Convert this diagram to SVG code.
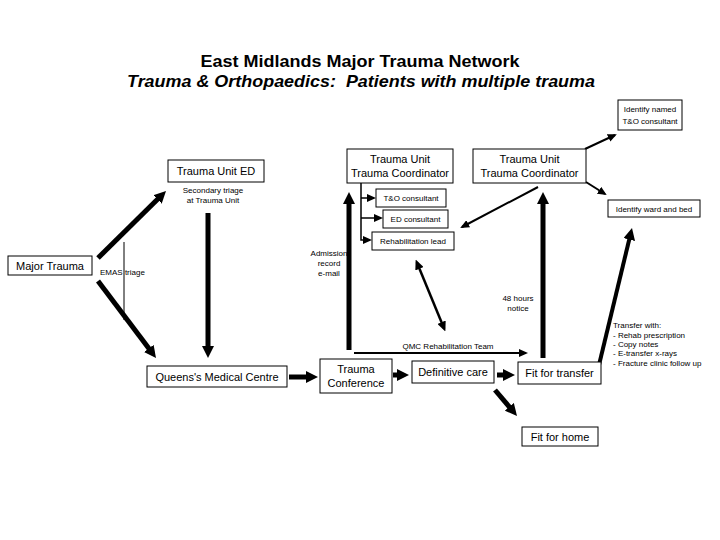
<svg xmlns="http://www.w3.org/2000/svg" width="720" height="540" viewBox="0 0 720 540">
<defs>
<style>
.box{fill:#fff;stroke:#000;stroke-width:1}
.t{font-family:"Liberation Sans",Arial,sans-serif;font-size:11px;fill:#000;text-anchor:middle}
.s{font-family:"Liberation Sans",Arial,sans-serif;font-size:8px;fill:#000;text-anchor:middle}
.sl{font-family:"Liberation Sans",Arial,sans-serif;font-size:8px;fill:#000}
.thick{stroke:#000;stroke-width:5;fill:none;marker-end:url(#big)}
.thin{stroke:#000;stroke-width:2;fill:none;marker-end:url(#small)}
</style>
<marker id="big" viewBox="0 0 12 12" refX="3" refY="6" markerWidth="12" markerHeight="12" markerUnits="userSpaceOnUse" orient="auto"><path d="M0,0 L12,6 L0,12 z" fill="#000"/></marker>
<marker id="small" viewBox="0 0 9 8" refX="7" refY="4" markerWidth="9" markerHeight="8" markerUnits="userSpaceOnUse" orient="auto"><path d="M0,0 L9,4 L0,8 z" fill="#000"/></marker>
<marker id="mid" viewBox="0 0 10 9" refX="7" refY="4.5" markerWidth="10" markerHeight="9" markerUnits="userSpaceOnUse" orient="auto-start-reverse"><path d="M0,0 L10,4.5 L0,9 z" fill="#000"/></marker>
</defs>
<rect width="720" height="540" fill="#fff"/>
<g id="title">
<text x="360" y="67" textLength="319" lengthAdjust="spacingAndGlyphs" style="font-family:'Liberation Sans',Arial,sans-serif;font-size:17px;font-weight:bold;text-anchor:middle">East Midlands Major Trauma Network</text>
<text x="361" y="87" textLength="468" lengthAdjust="spacingAndGlyphs" style="font-family:'Liberation Sans',Arial,sans-serif;font-size:17px;font-weight:bold;font-style:italic;text-anchor:middle" xml:space="preserve">Trauma &amp; Orthopaedics:  Patients with multiple trauma</text>
</g>
<g id="connectors">
<line class="thick" x1="98" y1="258" x2="159.6" y2="197.3"/>
<line class="thick" x1="98" y1="281" x2="150.6" y2="350.8"/>
<line class="thick" x1="208" y1="213" x2="208" y2="349"/>
<line class="thick" x1="349" y1="350" x2="349" y2="201"/>
<line class="thick" x1="543" y1="358" x2="543" y2="201"/>
<line class="thick" style="stroke-width:4" x1="599" y1="365" x2="629.9" y2="236.7"/>
<line class="thick" x1="289" y1="377" x2="309" y2="377"/>
<line class="thick" x1="393" y1="375" x2="400" y2="375"/>
<line class="thick" x1="497" y1="375" x2="506" y2="375"/>
<line class="thick" x1="495" y1="390" x2="511.2" y2="409.1"/>
<line x1="124" y1="242" x2="124" y2="320" stroke="#000" stroke-width="1"/>
<line x1="416.8" y1="262.3" x2="444.2" y2="328.7" stroke="#000" stroke-width="2.5" marker-start="url(#mid)" marker-end="url(#mid)"/>
<line class="thin" x1="538" y1="187" x2="462" y2="227"/>
<line class="thin" x1="585" y1="149" x2="615" y2="135"/>
<line class="thin" x1="586" y1="182" x2="605" y2="194"/>
<line class="thin" x1="354" y1="353" x2="526" y2="353"/>
<path d="M361,183 V240 H370" class="thin" style="stroke-width:1.5"/>
<line class="thin" style="stroke-width:1.5" x1="361" y1="198" x2="374" y2="198"/>
<line class="thin" style="stroke-width:1.5" x1="361" y1="218" x2="381" y2="218"/>
</g>
<g id="identify-named">
<rect class="box" x="618" y="100" width="64" height="30"/>
<text class="s" x="650" y="112">Identify named</text>
<text class="s" x="650" y="124">T&amp;O consultant</text>
</g>
<g id="trauma-unit-ed">
<rect class="box" x="168" y="160" width="96" height="22"/>
<text class="t" x="216" y="175">Trauma Unit ED</text>
</g>
<g id="secondary-triage">
<text class="s" x="213" y="193">Secondary triage</text>
<text class="s" x="213" y="203">at Trauma Unit</text>
</g>
<g id="coordinator-1">
<rect class="box" x="347" y="149" width="106" height="34"/>
<text class="t" x="400" y="163">Trauma Unit</text>
<text class="t" x="400" y="177">Trauma Coordinator</text>
</g>
<g id="coordinator-2">
<rect class="box" x="473" y="149" width="113" height="34"/>
<text class="t" x="529.5" y="163">Trauma Unit</text>
<text class="t" x="529.5" y="177">Trauma Coordinator</text>
</g>
<g id="to-consultant">
<rect class="box" x="376" y="189" width="70" height="18"/>
<text class="s" x="411" y="201">T&amp;O consultant</text>
</g>
<g id="ed-consultant">
<rect class="box" x="383" y="210" width="65" height="18"/>
<text class="s" x="415.5" y="222">ED consultant</text>
</g>
<g id="rehab-lead">
<rect class="box" x="372" y="232" width="82" height="18"/>
<text class="s" x="413" y="244">Rehabilitation lead</text>
</g>
<g id="identify-ward">
<rect class="box" x="608" y="200" width="92" height="17"/>
<text class="s" x="654" y="211.5">Identify ward and bed</text>
</g>
<g id="major-trauma">
<rect class="box" x="8" y="256" width="84" height="19"/>
<text class="t" x="50" y="270">Major Trauma</text>
</g>
<g id="emas-triage">
<text class="sl" x="100" y="275">EMAS triage</text>
</g>
<g id="admission">
<text class="s" x="329" y="256">Admission</text>
<text class="s" x="329" y="266">record</text>
<text class="s" x="329" y="276">e-mail</text>
</g>
<g id="hours-notice">
<text class="s" x="518" y="301">48 hours</text>
<text class="s" x="518" y="311">notice</text>
</g>
<g id="qmc-rehab">
<text class="s" x="448" y="349">QMC Rehabilitation Team</text>
</g>
<g id="transfer-with">
<text class="sl" x="613" y="328">Transfer with:</text>
<text class="sl" x="613" y="338">- Rehab prescription</text>
<text class="sl" x="613" y="347">- Copy notes</text>
<text class="sl" x="613" y="356">- E-transfer x-rays</text>
<text class="sl" x="613" y="366">- Fracture clinic follow up</text>
</g>
<g id="qmc">
<rect class="box" x="147" y="366" width="140" height="21"/>
<text class="t" x="217" y="380.5">Queens's Medical Centre</text>
</g>
<g id="trauma-conference">
<rect class="box" x="320" y="359" width="72" height="34"/>
<text class="t" x="356" y="373">Trauma</text>
<text class="t" x="356" y="387">Conference</text>
</g>
<g id="definitive-care">
<rect class="box" x="412" y="361" width="82" height="22"/>
<text class="t" x="453" y="376">Definitive care</text>
</g>
<g id="fit-for-transfer">
<rect class="box" x="518" y="362" width="83" height="22"/>
<text class="t" x="559.5" y="377">Fit for transfer</text>
</g>
<g id="fit-for-home">
<rect class="box" x="522" y="427" width="76" height="19"/>
<text class="t" x="560" y="441">Fit for home</text>
</g>
</svg>
